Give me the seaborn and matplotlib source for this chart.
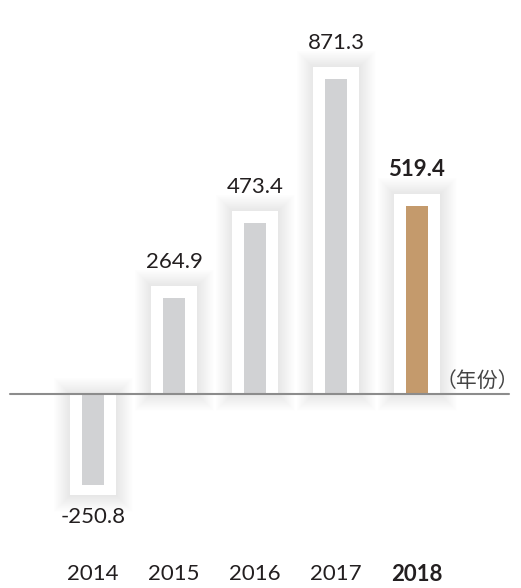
import matplotlib
matplotlib.use("Agg")
import matplotlib.pyplot as plt
import matplotlib.patheffects as pe
import matplotlib.transforms as mtransforms
import seaborn as sns
import pandas as pd

# Data
years = ["2014", "2015", "2016", "2017", "2018"]
values = [-250.8, 264.9, 473.4, 871.3, 519.4]
value_labels = ["-250.8", "264.9", "473.4", "871.3", "519.4"]
unit_label = "（年份）"

# Styling
GRAY = "#d1d2d4"
GOLD = "#c49a6c"
TEXT = "#231f20"
bar_colors = [GRAY, GRAY, GRAY, GRAY, GOLD]
frame_pad = 33  # extra height of the white frame, in data units

sns.set_theme(style="white")
plt.rcParams["font.family"] = ["Lato", "Noto Sans CJK SC", "DejaVu Sans"]

fig = plt.figure(figsize=(5.21, 5.88), dpi=100)
ax = fig.add_axes([0, 0.046, 1, 0.954])

df = pd.DataFrame({"year": years, "value": values, "label": value_labels})
df["frame"] = [v + frame_pad if v >= 0 else v - frame_pad * 0.85 for v in values]

# White frames behind each bar, with a soft drop shadow
sns.barplot(data=df, x="year", y="frame", color="white", width=0.556,
            saturation=1, ax=ax, zorder=1)
n_frames = len(ax.patches)
shadow = [pe.Stroke(linewidth=w, foreground="black", alpha=0.0045)
          for w in range(24, 0, -1)]
shadow.append(pe.Normal())
for p in ax.patches[:n_frames]:
    p.set_edgecolor("white")
    p.set_linewidth(0)
    p.set_path_effects(shadow)

# Inner bars
sns.barplot(data=df, x="year", y="value", hue="year", palette=bar_colors,
            width=0.27, saturation=1, legend=False, ax=ax, zorder=2)
for p in ax.patches[n_frames:]:
    p.set_linewidth(0)

ax.set_xlim(-1.148, 5.284)
ax.set_ylim(-461.3, 1088.4)

# Baseline
ax.axhline(0, xmin=10 / 521, xmax=509 / 521, color="#8c8c8c", lw=1.5, zorder=3)

# Value labels
for i, (v, f, lab) in enumerate(zip(values, df["frame"], value_labels)):
    weight = "bold" if i == len(values) - 1 else "normal"
    if v >= 0:
        ax.annotate(lab, (i, f), xytext=(0, 10), textcoords="offset points",
                    ha="center", va="bottom", fontsize=16, color=TEXT,
                    fontweight=weight)
    else:
        ax.annotate(lab, (i, f), xytext=(0, -9), textcoords="offset points",
                    ha="center", va="top", fontsize=16, color=TEXT,
                    fontweight=weight)

# Unit label at the right end of the baseline
ax.text(477 / 521, 6, unit_label, transform=mtransforms.blended_transform_factory(
    ax.transAxes, ax.transData), ha="center", va="bottom", fontsize=15,
    color="#444444", family=["Noto Sans CJK SC", "DejaVu Sans"])

# Year tick labels
ax.set_xticks(range(len(years)))
ax.set_xticklabels(years, fontsize=16, color=TEXT)
ax.get_xticklabels()[-1].set_fontweight("bold")
ax.tick_params(axis="x", length=0, pad=2)
ax.set_yticks([])
ax.set_xlabel("")
ax.set_ylabel("")
for s in ax.spines.values():
    s.set_visible(False)

fig.savefig("out.png", dpi=100, facecolor="white")
